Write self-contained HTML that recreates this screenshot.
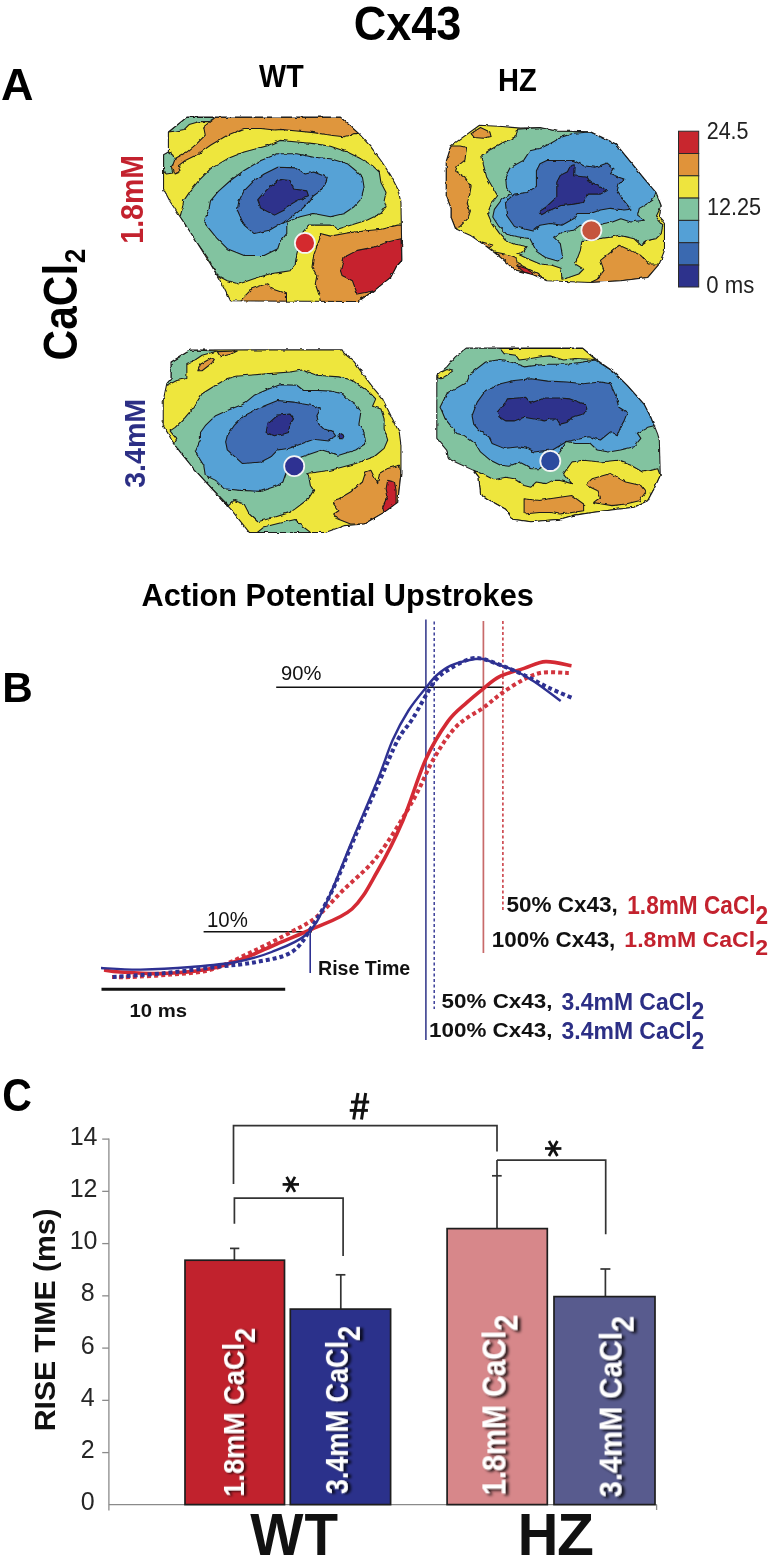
<!DOCTYPE html>
<html><head><meta charset="utf-8">
<style>
html,body{margin:0;padding:0;background:#fff;}
body{width:773px;height:1560px;overflow:hidden;position:relative;}
svg{position:absolute;left:0;top:0;will-change:transform;}
text{font-family:"Liberation Sans",sans-serif;}
.b{font-weight:bold;}
.wl{fill:#fff;filter:url(#sh);}
</style></head><body>
<svg width="773" height="1560" viewBox="0 0 773 1560">
<defs><filter id="sh" x="-30%" y="-10%" width="160%" height="120%"><feGaussianBlur in="SourceAlpha" stdDeviation="1.1"/><feOffset dx="-1.3" dy="2" result="o"/><feFlood flood-color="#000" flood-opacity="0.85"/><feComposite in2="o" operator="in"/><feMerge><feMergeNode/><feMergeNode in="SourceGraphic"/></feMerge></filter></defs>
<g id="maps">
<defs><filter id="jag" x="-5%" y="-5%" width="110%" height="110%" filterUnits="objectBoundingBox"><feTurbulence type="fractalNoise" baseFrequency="0.07" numOctaves="1" seed="3" result="n"/><feDisplacementMap in="SourceGraphic" in2="n" scale="10" xChannelSelector="R" yChannelSelector="G"/></filter></defs>
<g transform="translate(160,110) scale(0.32342)" stroke="#1a1a1a" stroke-width="3.3" stroke-linejoin="round">
<clipPath id="cp0"><polygon points="83,22 558,22 615,73 652,114 683,156 714,203 735,244 745,286 748,465 730,486 714,517 662,559 612,592 218,590 198,549 156,476 104,393 62,330 31,283 11,244 11,138 26,130 26,68"/></clipPath>
<g filter="url(#jag)"><g clip-path="url(#cp0)">
<polygon fill="#EEE63E" stroke="none" points="83,22 558,22 615,73 652,114 683,156 714,203 735,244 745,286 748,465 730,486 714,517 662,559 612,592 218,590 198,549 156,476 104,393 62,330 31,283 11,244 11,138 26,130 26,68"/>
<polygon fill="#82C3A0" points="26,68 83,22 172,23 150,36 120,36 90,45 75,60 50,65"/>
<polygon fill="#82C3A0" points="11,138 26,130 40,140 47,160 35,175 40,195 20,198 11,190"/>
<polygon fill="#DF963D" points="172,22 558,22 615,73 600,73 589,78 569,83 527,78 475,70 423,65 371,60 354,62 312,57 260,57 208,78 156,109 120,135 78,156 57,172 62,192 47,198 38,175 47,150 83,130 114,104 140,78 135,52"/>
<polygon fill="#DF963D" points="496,382 527,390 579,380 631,374 683,369 735,356 748,356 748,465 730,486 714,517 662,559 612,592 496,592 491,569 480,538 485,512 470,486 475,450 496,392"/>
<polygon fill="#C6242D" points="558,497 569,455 610,434 662,424 704,408 745,398 748,465 730,486 714,517 662,559 610,569 595,528 563,512"/>
<polygon fill="#DF963D" points="246,592 284,553 330,537 345,553 391,568 391,592"/>
<polygon fill="#82C3A0" points="68,309 73,281 94,250 120,218 156,182 208,151 260,130 338,109 371,94 423,99 475,104 527,112 579,130 621,151 657,172 678,192 683,224 699,255 693,281 699,299 683,320 641,340 589,356 553,367 527,356 485,356 459,356 440,380 423,445 418,476 402,497 371,502 338,507 286,523 244,538 208,528 177,512 150,460 100,390 62,330"/>
<polygon fill="#57A2D6" points="151,309 156,281 182,250 218,218 260,187 312,156 364,135 423,135 475,146 527,151 579,166 605,187 626,208 631,239 621,276 600,299 569,320 527,330 475,320 433,330 392,346 392,382 371,408 364,429 322,450 260,450 208,429 177,398 156,372 135,346"/>
<polygon fill="#3F6DB4" points="239,309 244,281 260,250 291,218 322,198 364,177 423,179 449,198 475,192 517,208 511,229 496,250 475,265 454,291 440,305 402,335 374,351 338,372 291,382 260,356"/>
<polygon fill="#2D328C" points="317,260 338,239 374,215 402,218 413,244 454,250 459,265 423,281 397,296 385,309 354,325 312,304 302,278"/>
</g>
<polygon fill="none" points="83,22 558,22 615,73 652,114 683,156 714,203 735,244 745,286 748,465 730,486 714,517 662,559 612,592 218,590 198,549 156,476 104,393 62,330 31,283 11,244 11,138 26,130 26,68"/>
</g>
<circle cx="448" cy="411" r="31" fill="#D42A2E" stroke="#f4f4f4" stroke-width="5.5"/>
</g>
<g transform="translate(430,100) scale(0.32342)" stroke="#1a1a1a" stroke-width="3.3" stroke-linejoin="round">
<clipPath id="cp1"><polygon points="153,78 223,82 280,87 340,85 392,96 496,98 574,135 621,192 663,244 699,286 715,327 709,361 725,382 725,465 709,507 673,549 590,559 496,564 361,559 319,540 261,525 223,491 175,453 127,420 79,398 65,362 65,335 50,296 50,190 65,142"/></clipPath>
<g filter="url(#jag)"><g clip-path="url(#cp1)">
<polygon fill="#EEE63E" stroke="none" points="153,78 223,82 280,87 340,85 392,96 496,98 574,135 621,192 663,244 699,286 715,327 709,361 725,382 725,465 709,507 673,549 590,559 496,564 361,559 319,540 261,525 223,491 175,453 127,420 79,398 65,362 65,335 50,296 50,190 65,142"/>
<polygon fill="#DF963D" points="127,104 156,85 185,99 189,113 165,118 137,116"/>
<polygon fill="#DF963D" points="65,142 93,142 113,147 108,186 84,205 79,220 108,238 127,267 122,296 115,320 125,343 117,367 93,391 79,398 65,362 65,335 50,296 50,190"/>
<polygon fill="#DF963D" points="200,470 247,479 266,487 270,505 300,520 330,535 361,559 319,540 261,525 223,491"/>
<polygon fill="#C6242D" points="268,512 300,522 322,540 290,532"/>
<polygon fill="#DF963D" points="161,439 194,448 185,456 165,452"/>
<polygon fill="#DF963D" points="496,564 517,554 538,527 527,496 558,471 585,449 621,465 652,481 678,507 709,507 673,549 590,559"/>
<polygon fill="#82C3A0" points="271,90 340,85 392,96 496,98 574,135 621,192 663,244 699,286 715,327 699,361 720,387 715,413 699,429 673,434 652,449 631,429 585,418 558,424 522,429 499,434 470,434 465,465 449,507 475,523 460,538 429,549 408,554 405,520 375,510 340,507 300,490 271,476 290,468 300,453 261,446 233,434 213,410 189,376 178,350 190,320 209,296 189,262 175,238 165,200 160,171 189,152 223,133 266,113"/>
<polygon fill="#57A2D6" points="309,157 340,150 371,135 408,114 444,103 496,99 574,135 621,192 663,244 699,286 689,309 673,320 647,335 642,356 663,372 621,377 590,367 564,377 538,382 499,395 465,387 444,403 408,408 382,424 403,444 410,485 395,498 357,487 329,468 319,448 309,429 266,422 237,415 213,391 194,362 199,338 223,306 252,291 237,272 233,238 247,210 290,186"/>
<polygon fill="#3F6DB4" points="340,197 361,187 444,187 475,203 512,208 548,195 569,213 558,228 584,239 600,244 584,260 579,280 600,312 621,338 600,340 558,335 527,340 496,351 455,351 444,367 408,387 371,382 340,387 319,405 280,396 261,391 237,357 233,315 261,291 300,286 329,267 329,219"/>
<polygon fill="#2D328C" points="434,203 446,200 444,234 486,239 496,254 548,280 527,291 486,291 475,317 444,322 403,327 366,343 345,355 338,345 360,330 392,300 392,254 403,233 425,222"/>
</g>
<polygon fill="none" points="153,78 223,82 280,87 340,85 392,96 496,98 574,135 621,192 663,244 699,286 715,327 709,361 725,382 725,465 709,507 673,549 590,559 496,564 361,559 319,540 261,525 223,491 175,453 127,420 79,398 65,362 65,335 50,296 50,190 65,142"/>
</g>
<circle cx="499" cy="403" r="31" fill="#C5553D" stroke="#f4f4f4" stroke-width="5.5"/>
</g>
<g transform="translate(160,340) scale(0.32342)" stroke="#1a1a1a" stroke-width="3.3" stroke-linejoin="round">
<clipPath id="cp2"><polygon points="94,31 563,30 569,41 600,67 626,104 662,151 688,182 714,234 740,286 745,325 745,413 735,502 693,533 631,569 569,574 511,595 276,595 218,522 156,455 104,398 62,346 36,309 26,291 10,265 10,187 21,135 34,119 34,68"/></clipPath>
<g filter="url(#jag)"><g clip-path="url(#cp2)">
<polygon fill="#EEE63E" stroke="none" points="94,31 563,30 569,41 600,67 626,104 662,151 688,182 714,234 740,286 745,325 745,413 735,502 693,533 631,569 569,574 511,595 276,595 218,522 156,455 104,398 62,346 36,309 26,291 10,265 10,187 21,135 34,119 34,68"/>
<polygon fill="#82C3A0" points="94,31 177,34 130,47 104,65 83,73 83,119 52,125 23,140 21,135 34,119 34,68"/>
<polygon fill="#DF963D" points="117,95 125,75 160,55 168,60 160,72 130,95"/>
<polygon fill="#DF963D" points="177,36 239,34 218,44 187,52"/>
<polygon fill="#82C3A0" points="42,325 52,307 31,281 47,270 78,239 104,208 130,166 172,140 208,119 234,112 338,104 402,99 439,93 485,109 553,114 595,125 615,140 647,161 667,182 657,205 683,213 693,244 693,275 704,309 693,335 662,361 605,382 527,403 454,413 459,418 465,450 475,465 459,491 418,522 402,533 354,548 302,562 276,538 260,507 229,496 212,512 150,448 104,398 62,346"/>
<polygon fill="#82C3A0" points="300,596 322,578 371,566 418,555 440,575 465,595"/>
<polygon fill="#DF963D" points="537,496 553,491 589,470 626,439 636,408 652,403 662,423 673,444 678,413 704,397 740,387 745,413 735,502 693,533 631,569 589,569 548,553 537,538 553,528 537,507"/>
<polygon fill="#C6242D" points="704,434 725,439 730,465 730,507 693,533 688,517 704,481 699,460"/>
<polygon fill="#57A2D6" points="125,309 125,286 140,265 172,234 208,218 260,197 291,171 338,151 371,138 423,140 444,156 491,156 527,158 563,166 579,182 610,203 621,223 615,260 631,286 636,320 605,340 553,356 501,340 439,361 400,380 380,439 364,450 312,468 250,465 198,460 172,434 140,418 135,387 109,346"/>
<polygon fill="#3F6DB4" points="312,208 364,187 413,192 439,197 475,203 496,213 485,234 491,260 506,275 532,281 543,296 522,312 475,307 440,320 400,335 364,340 343,361 312,377 255,382 208,340 203,315 208,296 229,265 260,234"/>
<polygon fill="#2D328C" points="364,232 402,229 413,244 402,260 397,286 385,290 354,296 328,286 333,260"/>
<polygon fill="#2D328C" points="553,293 561,290 569,296 565,305 555,305"/>
</g>
<polygon fill="none" points="94,31 563,30 569,41 600,67 626,104 662,151 688,182 714,234 740,286 745,325 745,413 735,502 693,533 631,569 569,574 511,595 276,595 218,522 156,455 104,398 62,346 36,309 26,291 10,265 10,187 21,135 34,119 34,68"/>
</g>
<circle cx="415" cy="390" r="31" fill="#2E3192" stroke="#f4f4f4" stroke-width="5.5"/>
</g>
<g transform="translate(430,330) scale(0.32342)" stroke="#1a1a1a" stroke-width="3.3" stroke-linejoin="round">
<clipPath id="cp3"><polygon points="112,56 472,56 517,93 569,130 610,171 662,229 683,270 704,322 709,340 712,450 693,491 673,528 631,548 579,554 501,564 439,574 402,585 312,593 255,585 234,554 187,528 156,507 151,455 135,434 88,413 57,398 52,372 21,335 21,140 52,114 78,83"/></clipPath>
<g filter="url(#jag)"><g clip-path="url(#cp3)">
<polygon fill="#82C3A0" stroke="none" points="112,56 472,56 517,93 569,130 610,171 662,229 683,270 704,322 709,340 712,450 693,491 673,528 631,548 579,554 501,564 439,574 402,585 312,593 255,585 234,554 187,528 156,507 151,455 135,434 88,413 57,398 52,372 21,335 21,140 52,114 78,83"/>
<polygon fill="#EEE63E" points="216,57 472,56 511,91 449,88 413,93 371,80 343,83 312,88 276,93 265,78 229,73"/>
<polygon fill="#EEE63E" points="26,135 52,122 70,127 52,140 34,151 23,148"/>
<polygon fill="#EEE63E" points="135,434 172,450 198,463 234,455 260,460 291,481 312,486 328,470 359,475 380,465 402,465 439,475 413,444 439,408 475,403 527,408 579,403 621,418 657,439 683,434 704,429 712,450 693,491 673,528 631,548 579,554 501,564 439,574 402,585 312,593 255,585 234,554 187,528 156,507 151,455"/>
<polygon fill="#DF963D" points="485,475 501,460 558,444 605,470 652,481 667,501 647,528 605,538 563,543 532,538 506,533 527,517 517,496 496,486"/>
<polygon fill="#DF963D" points="291,522 338,527 371,522 402,517 439,512 475,538 475,559 439,564 402,569 371,564 338,564 291,569"/>
<polygon fill="#57A2D6" points="36,249 31,239 52,197 78,182 114,161 125,135 172,99 208,93 250,99 291,114 333,109 364,106 423,106 475,99 511,93 569,130 610,171 662,229 683,270 693,296 673,301 641,319 652,335 631,361 589,371 553,377 517,371 496,351 449,351 423,345 400,380 372,405 338,429 312,429 296,418 276,408 244,421 218,418 187,403 156,377 140,351 104,325 83,320 68,301 47,275"/>
<polygon fill="#3F6DB4" points="130,265 146,223 172,187 218,166 260,156 312,151 364,158 423,161 475,166 527,161 558,166 574,203 584,239 610,255 600,281 589,301 579,327 558,315 527,340 491,330 423,345 380,370 340,375 322,377 302,366 276,361 229,366 192,351 182,330 151,309 135,291"/>
<polygon fill="#2D328C" points="208,254 234,223 239,213 270,210 296,208 312,226 354,210 402,210 433,213 459,223 480,229 485,244 475,260 439,270 423,286 402,291 392,275 371,275 354,281 322,275 291,270 260,281 234,281 213,268"/>
</g>
<polygon fill="none" points="112,56 472,56 517,93 569,130 610,171 662,229 683,270 704,322 709,340 712,450 693,491 673,528 631,548 579,554 501,564 439,574 402,585 312,593 255,585 234,554 187,528 156,507 151,455 135,434 88,413 57,398 52,372 21,335 21,140 52,114 78,83"/>
</g>
<circle cx="372" cy="405" r="31" fill="#2B4A9E" stroke="#f4f4f4" stroke-width="5.5"/>
</g>
</g>
<g stroke="#2a2a2a" stroke-width="1">
<rect x="678.5" y="131.2" width="20.2" height="22.3" fill="#C8262E"/>
<rect x="678.5" y="153.5" width="20.2" height="22.3" fill="#E0933A"/>
<rect x="678.5" y="175.8" width="20.2" height="22.3" fill="#EEE43E"/>
<rect x="678.5" y="198.1" width="20.2" height="22.3" fill="#80C3A0"/>
<rect x="678.5" y="220.4" width="20.2" height="22.3" fill="#54A0D6"/>
<rect x="678.5" y="242.7" width="20.2" height="22.3" fill="#3A69B0"/>
<rect x="678.5" y="265.0" width="20.2" height="22.0" fill="#2D328C"/>
</g>
<!-- ===== Panel B ===== -->
<g fill="none">
<line x1="276.2" y1="687.2" x2="503.6" y2="687.2" stroke="#111" stroke-width="1.5"/>
<line x1="203.6" y1="931.7" x2="312" y2="931.7" stroke="#111" stroke-width="1.5"/>
<line x1="310.2" y1="931" x2="310.2" y2="973" stroke="#2E3192" stroke-width="1.6"/>
<line x1="101.5" y1="989.2" x2="285.2" y2="989.2" stroke="#111" stroke-width="3.1"/>
<line x1="425.9" y1="619.5" x2="425.9" y2="1040" stroke="#3A3F8F" stroke-width="1.6"/>
<line x1="434.2" y1="621.4" x2="434.2" y2="1009" stroke="#2E3192" stroke-width="1.4" stroke-dasharray="3,2.5"/>
<line x1="483.4" y1="621" x2="483.4" y2="953" stroke="#C86A6A" stroke-width="1.7"/>
<line x1="502.9" y1="621" x2="502.9" y2="912" stroke="#C4262E" stroke-width="1.4" stroke-dasharray="3,2.5"/>
<!-- red dashed -->
<path stroke="#D2353F" stroke-width="4" stroke-dasharray="4,3" d="M112.0,977.0 C115.0,977.0 120.2,977.4 130.0,977.0 C139.8,976.6 157.2,975.8 170.7,974.6 C184.2,973.4 197.5,973.4 211.0,969.6 C224.5,965.8 238.0,958.3 251.5,952.0 C265.0,945.7 280.9,937.6 291.8,931.7 C302.7,925.8 308.6,923.4 317.0,916.6 C325.4,909.8 332.2,901.1 342.3,891.0 C352.4,880.9 365.8,871.1 377.6,856.0 C389.4,840.9 403.8,816.5 413.0,800.5 C422.2,784.5 425.8,772.3 433.0,760.0 C440.2,747.7 447.6,735.5 456.0,726.8 C464.4,718.1 475.5,713.4 483.2,707.8 C490.9,702.1 495.4,697.6 502.2,692.9 C509.0,688.1 517.2,682.7 524.0,679.3 C530.8,675.9 535.5,673.5 543.0,672.5 C550.5,671.5 564.5,672.9 568.8,673.0"/>
<!-- red solid -->
<path stroke="#D42A34" stroke-width="3.6" d="M104.0,970.0 C106.7,970.3 110.6,971.4 120.0,972.0 C129.4,972.6 146.3,974.0 160.6,973.6 C174.9,973.2 192.6,972.0 206.0,969.6 C219.4,967.2 229.2,963.8 241.0,959.5 C252.8,955.2 264.9,949.1 276.7,944.0 C288.5,938.9 299.4,934.8 312.0,929.0 C324.6,923.2 341.1,918.7 352.0,909.0 C362.9,899.3 369.1,885.7 377.6,871.0 C386.1,856.3 394.8,839.2 402.8,820.7 C410.8,802.2 418.0,776.5 425.5,760.0 C433.0,743.5 441.0,731.0 447.9,721.4 C454.8,711.8 461.1,707.8 467.0,702.4 C472.9,697.0 477.8,693.1 483.2,688.8 C488.6,684.5 492.7,680.0 499.5,676.6 C506.3,673.2 516.3,670.9 524.0,668.4 C531.7,665.9 537.8,662.0 545.7,661.6 C553.6,661.2 567.2,665.0 571.5,665.7"/>
<!-- blue dashed -->
<path stroke="#2E3192" stroke-width="4" stroke-dasharray="4,3" d="M112.7,977.0 C121.5,976.3 148.5,974.7 165.7,973.0 C182.9,971.3 200.9,968.8 216.0,967.0 C231.1,965.2 243.9,964.5 256.5,962.0 C269.1,959.5 282.6,957.9 291.8,952.0 C301.1,946.1 305.3,936.9 312.0,926.7 C318.7,916.5 324.4,907.0 332.0,891.0 C339.6,875.0 349.4,849.5 357.4,831.0 C365.4,812.5 373.3,795.2 380.0,780.0 C386.7,764.8 392.4,750.2 397.8,740.0 C403.2,729.8 406.5,728.4 412.6,718.7 C418.7,709.0 428.0,690.4 434.3,682.0 C440.6,673.6 444.7,672.2 450.6,668.4 C456.5,664.6 464.2,660.6 469.6,659.0 C475.0,657.4 477.6,657.9 483.0,659.0 C488.4,660.1 495.2,663.0 502.0,665.7 C508.8,668.4 516.3,671.4 524.0,675.0 C531.7,678.6 539.9,683.5 548.0,687.4 C556.1,691.3 568.8,696.5 572.9,698.3"/>
<!-- blue solid -->
<path stroke="#2E3192" stroke-width="2.4" d="M101.0,968.0 C107.6,968.3 125.5,969.8 140.5,969.6 C155.5,969.4 175.1,968.3 191.0,967.0 C206.9,965.7 222.6,964.5 236.0,962.0 C249.4,959.5 259.8,956.7 271.6,952.0 C283.4,947.3 297.8,942.4 307.0,934.0 C316.2,925.6 319.5,917.0 327.0,901.5 C334.5,886.0 343.6,861.2 352.0,841.0 C360.4,820.8 370.8,796.8 377.6,780.0 C384.4,763.2 387.6,751.6 392.7,740.0 C397.8,728.4 402.9,719.3 408.5,710.5 C414.1,701.7 421.4,693.3 426.2,687.4 C430.9,681.5 432.9,678.6 437.0,675.0 C441.1,671.4 445.2,668.2 450.6,665.7 C456.0,663.2 464.2,661.1 469.6,660.0 C475.0,658.9 478.5,658.3 483.0,659.0 C487.5,659.7 491.3,662.0 496.8,664.0 C502.3,666.0 509.5,668.0 515.8,671.0 C522.1,674.0 527.3,677.0 534.8,682.0 C542.3,687.0 556.4,697.8 560.7,701.0"/>
</g>

<!-- ===== Panel C ===== -->
<g stroke="#8a8a8a" stroke-width="1.3" fill="none">
<line x1="108.9" y1="1138.5" x2="108.9" y2="1510.6"/>
<line x1="108.9" y1="1504.6" x2="656.8" y2="1504.6"/>
<line x1="656.6" y1="1504.6" x2="656.6" y2="1510"/>
<line x1="102.2" y1="1139.1" x2="108.9" y2="1139.1"/>
<line x1="102.2" y1="1191.35" x2="108.9" y2="1191.35"/>
<line x1="102.2" y1="1243.6" x2="108.9" y2="1243.6"/>
<line x1="102.2" y1="1295.85" x2="108.9" y2="1295.85"/>
<line x1="102.2" y1="1348.1" x2="108.9" y2="1348.1"/>
<line x1="102.2" y1="1400.35" x2="108.9" y2="1400.35"/>
<line x1="102.2" y1="1452.6" x2="108.9" y2="1452.6"/>
</g>
<!-- error bars -->
<g stroke="#333" stroke-width="1.7" fill="none">
<line x1="234.4" y1="1248.4" x2="234.4" y2="1261"/><line x1="230" y1="1248.4" x2="239.3" y2="1248.4"/>
<line x1="340.8" y1="1274.8" x2="340.8" y2="1310"/><line x1="335.7" y1="1274.8" x2="345.4" y2="1274.8"/>
<line x1="497" y1="1160.1" x2="497" y2="1229.5"/><line x1="492" y1="1175.8" x2="501.7" y2="1175.8"/>
<line x1="605.4" y1="1269" x2="605.4" y2="1297.5"/><line x1="600.4" y1="1269" x2="610.4" y2="1269"/>
</g>
<!-- bars -->
<g stroke="#1e1e1e" stroke-width="1.7">
<rect x="185" y="1260.2" width="99.5" height="244.4" fill="#C1222D"/>
<rect x="290.3" y="1309.1" width="100.3" height="195.5" fill="#2B318B"/>
<rect x="447.1" y="1228.6" width="100.2" height="276" fill="#D7878A"/>
<rect x="554" y="1296.6" width="101" height="208" fill="#585B8E"/>
</g>
<!-- brackets -->
<g stroke="#333" stroke-width="1.7" fill="none">
<polyline points="234.4,1223.7 234.4,1198.2 343.1,1198.2 343.1,1256.1"/>
<polyline points="233.5,1184 233.5,1125.6 497,1125.6 497,1151.4"/>
<polyline points="497,1160.1 605.7,1160.1 605.7,1234.2"/>
</g>

<!-- asterisks -->
<g transform="translate(290.8,1184.4)" stroke="#111" stroke-width="2.7" fill="none"><line x1="-8.2" y1="0" x2="8.2" y2="0"/><line x1="-4.2" y1="-7.5" x2="4.2" y2="7.5"/><line x1="4.2" y1="-7.5" x2="-4.2" y2="7.5"/></g>
<g transform="translate(553.2,1148.5)" stroke="#111" stroke-width="2.7" fill="none"><line x1="-8.2" y1="0" x2="8.2" y2="0"/><line x1="-4.2" y1="-7.5" x2="4.2" y2="7.5"/><line x1="4.2" y1="-7.5" x2="-4.2" y2="7.5"/></g>
<g stroke="#111" stroke-width="3" fill="none"><line x1="358" y1="1093" x2="353.7" y2="1119.6"/><line x1="365.7" y1="1093" x2="361.5" y2="1119.6"/><line x1="351" y1="1102" x2="369.2" y2="1102" stroke-width="2.9"/><line x1="349.7" y1="1110.4" x2="367.9" y2="1110.4" stroke-width="2.9"/></g>

<g id="f_cx43" transform="matrix(1.02433 0.00000 0.00000 1.08107 -8.97433 -3.26209)"><text class="b" x="354" y="40" font-size="44">Cx43</text></g>
<g id="f_A" transform="matrix(1.12486 0.00000 0.00000 1.10660 -1.27116 -10.20761)"><text class="b" x="2" y="100" font-size="40">A</text></g>
<g id="f_WT" transform="matrix(1.02291 0.00000 0.00000 1.08702 -8.88021 -11.30356)"><text class="b" x="262" y="90" font-size="28">WT</text></g>
<g id="f_HZ" transform="matrix(1.03871 0.00000 0.00000 1.11512 -21.43347 -9.83451)"><text class="b" x="500" y="90" font-size="28">HZ</text></g>
<g id="f_CaCl" transform="matrix(1.08974 0.00000 0.00000 0.96510 -7.07698 13.96810)"><text class="b" font-size="44" transform="translate(77,359) rotate(-90)">CaCl</text></g>
<g id="f_CaCl2" transform="matrix(1.31676 0.00000 0.00000 1.20000 -26.42903 -51.13723)"><text class="b" font-size="22" transform="translate(85,262) rotate(-90)">2</text></g>
<g id="f_m18" transform="matrix(1.09778 0.00000 0.00000 1.01845 -15.08076 -2.81489)"><text class="b" font-size="28" fill="#C3222E" transform="translate(144,242) rotate(-90)">1.8mM</text></g>
<g id="f_m34" transform="matrix(1.07129 0.00000 0.00000 1.02034 -10.93345 -9.09499)"><text class="b" font-size="28" fill="#2C2F85" transform="translate(146,487) rotate(-90)">3.4mM</text></g>
<g id="f_c245" transform="matrix(1.02583 0.00000 0.00000 1.11140 -18.59359 -14.55872)"><text x="707" y="138.5" font-size="21" fill="#222">24.5</text></g>
<g id="f_c1225" transform="matrix(1.03344 0.00000 0.00000 1.10235 -23.74522 -22.11893)"><text x="707" y="215" font-size="21" fill="#222">12.25</text></g>
<g id="f_c0ms" transform="matrix(1.05527 0.00000 0.00000 1.10623 -39.84244 -30.39577)"><text x="707" y="292" font-size="21" fill="#222">0 ms</text></g>
<g id="f_title" transform="matrix(1.13728 0.00000 0.00000 1.14035 -21.04157 -82.96115)"><text class="b" x="143" y="604" font-size="27">Action Potential Upstrokes</text></g>
<g id="f_B" transform="matrix(1.24222 0.00000 0.00000 1.26026 -2.74237 -182.69976)"><text class="b" x="4" y="702" font-size="34">B</text></g>
<g id="f_p90" transform="matrix(1.18765 0.00000 0.00000 1.22829 -52.61688 -156.03564)"><text x="281" y="681" font-size="17" fill="#111">90%</text></g>
<g id="f_p10" transform="matrix(1.20140 0.00000 0.00000 1.27169 -42.91468 -252.46919)"><text x="208" y="927.7" font-size="17" fill="#111">10%</text></g>
<g id="f_rise" transform="matrix(1.08957 0.00000 0.00000 1.15385 -30.10139 -150.83385)"><text class="b" x="319.5" y="975.5" font-size="18" fill="#111">Rise Time</text></g>
<g id="f_ms10" transform="matrix(1.19471 0.00000 0.00000 1.07439 -25.85541 -70.90323)"><text class="b" x="130" y="1013" font-size="17" fill="#111">10 ms</text></g>
<g id="f_L1a" transform="matrix(1.07304 0.00000 0.00000 1.03193 -36.55425 -29.08820)"><text class="b" x="506" y="912" font-size="21" fill="#111">50% Cx43,</text></g>
<g id="f_L1b" transform="matrix(1.07834 0.00000 0.00000 1.18575 -49.92594 -167.18580)"><text class="b" x="628" y="912" font-size="21" fill="#C3222E">1.8mM CaCl<tspan font-size="21" dy="8">2</tspan></text></g>
<g id="f_L2a" transform="matrix(1.06932 0.00000 0.00000 1.07505 -34.27067 -71.48554)"><text class="b" x="492" y="947" font-size="21" fill="#111">100% Cx43,</text></g>
<g id="f_L2b" transform="matrix(1.10007 0.00000 0.00000 1.03769 -64.32568 -36.01187)"><text class="b" x="626" y="947" font-size="21" fill="#C3222E">1.8mM CaCl<tspan font-size="21" dy="8">2</tspan></text></g>
<g id="f_L3a" transform="matrix(1.06662 0.00000 0.00000 0.99285 -29.81795 6.92770)"><text class="b" x="442" y="1008" font-size="21" fill="#111">50% Cx43,</text></g>
<g id="f_L3b" transform="matrix(1.09307 0.00000 0.00000 1.17391 -52.68922 -173.69565)"><text class="b" x="562" y="1008" font-size="21" fill="#2C2F85">3.4mM CaCl<tspan font-size="21" dy="8">2</tspan></text></g>
<g id="f_L4a" transform="matrix(1.06805 0.00000 0.00000 0.99327 -30.23496 7.08141)"><text class="b" x="430" y="1037" font-size="21" fill="#111">100% Cx43,</text></g>
<g id="f_L4b" transform="matrix(1.09301 0.00000 0.00000 1.15646 -52.66106 -159.98311)"><text class="b" x="562" y="1037" font-size="21" fill="#2C2F85">3.4mM CaCl<tspan font-size="21" dy="8">2</tspan></text></g>
<g id="f_C" transform="matrix(1.02496 0.00000 0.00000 1.13904 -1.96073 -153.71089)"><text class="b" x="4" y="1110" font-size="40">C</text></g>
<g id="f_yt" transform="matrix(1.02784 0.00000 0.00000 1.04037 -8.87975 -56.47207)"><text class="b" font-size="29" fill="#111" transform="translate(62,1430) rotate(-90)">RISE TIME (ms)</text></g>
<g id="f_bW" transform="matrix(1.02474 0.00000 0.00000 1.06577 -8.03122 -101.22532)"><text class="b" x="252" y="1554" font-size="55" fill="#111">W</text></g>
<g id="f_bT" transform="matrix(0.99836 0.00000 0.00000 1.06577 0.08838 -101.22532)"><text class="b" x="305" y="1554" font-size="55" fill="#111">T</text></g>
<g id="f_bH" transform="matrix(1.02125 0.00000 0.00000 1.06577 -12.18819 -101.22532)"><text class="b" x="519" y="1554" font-size="55" fill="#111">H</text></g>
<g id="f_bZ" transform="matrix(1.10020 0.00000 0.00000 1.06577 -57.88279 -101.22532)"><text class="b" x="559" y="1554" font-size="55" fill="#111">Z</text></g>
<g id="f_bl1" transform="matrix(1.22222 0.00000 0.00000 1.13089 -50.57556 -194.02544)"><text class="b wl" font-size="24" transform="translate(241,1495) rotate(-90)">1.8mM CaCl<tspan dy="9">2</tspan></text></g>
<g id="f_bl2" transform="matrix(1.29281 0.00000 0.00000 1.12703 -98.12932 -190.73761)"><text class="b wl" font-size="24" transform="translate(345,1495) rotate(-90)">3.4mM CaCl<tspan dy="9">2</tspan></text></g>
<g id="f_bl3" transform="matrix(1.36688 0.00000 0.00000 1.20972 -184.88518 -313.29383)"><text class="b wl" font-size="24" transform="translate(505,1495) rotate(-90)">1.8mM CaCl<tspan dy="9">2</tspan></text></g>
<g id="f_bl4" transform="matrix(1.32896 0.00000 0.00000 1.21532 -202.39232 -319.57351)"><text class="b wl" font-size="24" transform="translate(620,1495) rotate(-90)">3.4mM CaCl<tspan dy="9">2</tspan></text></g>
<g id="f_ticks" transform="matrix(1.00000 0.00000 0.00000 1.00000 0.00000 0.00000)"><g font-size="25" fill="#262626" text-anchor="end">
<text x="97.5" y="1144.70">14</text>
<text x="97.5" y="1196.95">12</text>
<text x="97.5" y="1249.20">10</text>
<text x="94.6" y="1301.45">8</text>
<text x="94.6" y="1353.70">6</text>
<text x="94.6" y="1405.95">4</text>
<text x="94.6" y="1458.20">2</text>
<text x="94.6" y="1510.45">0</text>
</g></g>
</svg>
</body></html>
